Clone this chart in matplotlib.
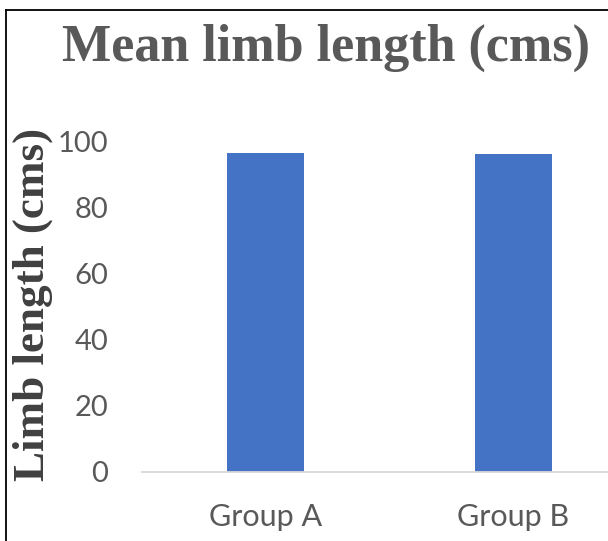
import matplotlib
matplotlib.use("Agg")
from matplotlib import pyplot as plt

# Chart data
groups = ["Group A", "Group B"]
limb_length = [96.7, 96.3]
y_ticks = [0, 20, 40, 60, 80, 100]

title_font = "Liberation Serif"
tick_font = "Lato"


def main():
    fig = plt.figure(figsize=(6.08, 5.41), dpi=100)

    # Plot area runs past the right edge, like the cropped original
    ax = fig.add_axes([141.6 / 608, (541 - 472) / 541, 495.6 / 608, 330 / 541])

    x = range(len(groups))
    ax.bar(x, limb_length, width=0.313, color="#4472C4", zorder=2)

    ax.set_xlim(-0.5, 1.5)
    ax.set_ylim(0, 100)
    ax.set_yticks(y_ticks)
    ax.set_xticks(list(x))
    ax.set_xticklabels(groups)

    for side in ["top", "right", "left"]:
        ax.spines[side].set_visible(False)
    ax.spines["bottom"].set_color("#D9D9D9")
    ax.spines["bottom"].set_linewidth(1.3)

    ax.tick_params(axis="both", length=0, colors="#595959")
    ax.tick_params(axis="y", pad=24)
    ax.tick_params(axis="x", pad=22)
    for lab in ax.get_yticklabels():
        lab.set_fontfamily(tick_font)
        lab.set_fontsize(21)
    for lab in ax.get_xticklabels():
        lab.set_fontfamily(tick_font)
        lab.set_fontsize(22)

    # Title and y label in bold serif
    fig.text(326 / 608, 1 - 48 / 541, "Mean limb length (cms)", ha="center", va="center",
             fontfamily=title_font, fontweight="bold", fontsize=37.5, color="#595959")
    fig.text(33 / 608, 1 - 304 / 541, "Limb length (cms)", ha="center", va="center",
             rotation=90, fontfamily=title_font, fontweight="bold", fontsize=32.5, color="#404040")

    # Frame on top and left (the rest is cropped)
    fig.add_artist(plt.Line2D([5.5 / 608, 5.5 / 608], [0, 1 - 9.5 / 541], color="black", lw=1.3))
    fig.add_artist(plt.Line2D([5.5 / 608, 1], [1 - 9.5 / 541, 1 - 9.5 / 541], color="black", lw=1.3))

    fig.savefig("out.png", dpi=100)


if __name__ == "__main__":
    main()
